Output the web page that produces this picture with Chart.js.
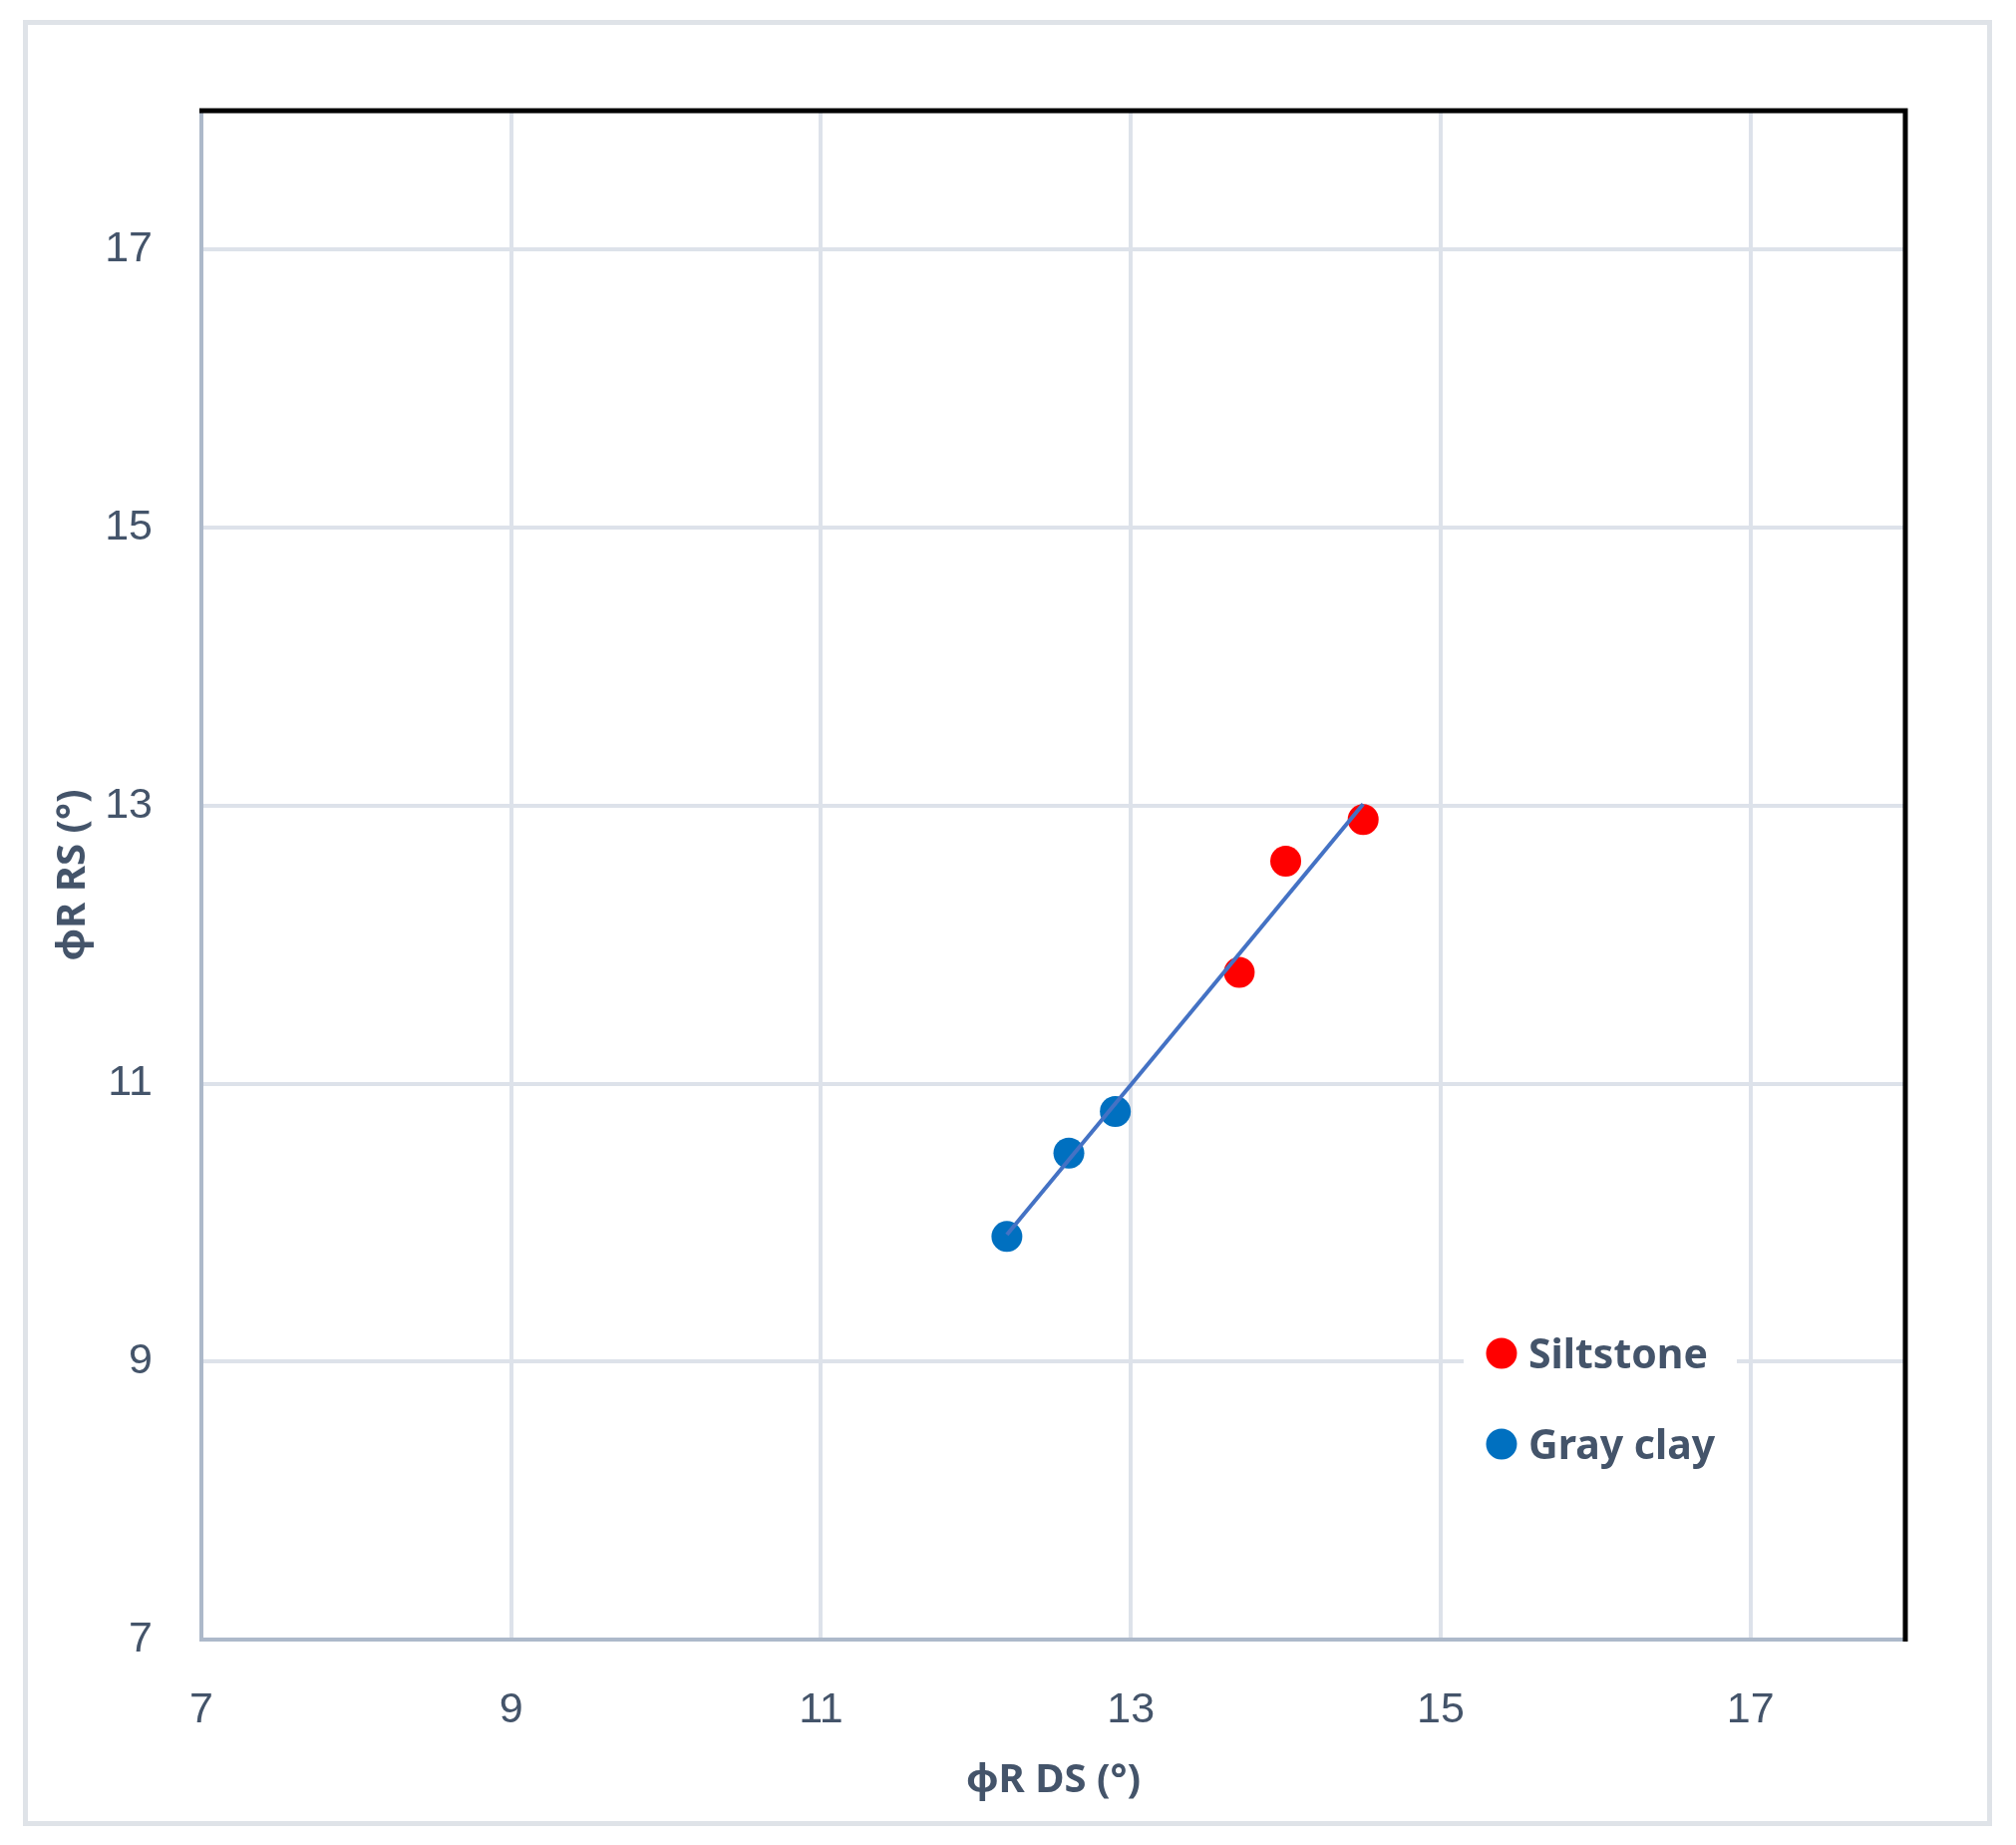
<!DOCTYPE html>
<html>
<head>
<meta charset="utf-8">
<script src="https://cdn.jsdelivr.net/npm/chart.js@4.4.1/dist/chart.umd.min.js"></script>
<style>
    html, body { margin: 0; padding: 0; background: #fff; }
    #wrap { width: 2022px; height: 1850px; }
</style>
</head>
<body>
<div id="wrap"><canvas id="myChart" width="2022" height="1850"></canvas></div>
<script>
// data
const siltstoneDS = [13.7, 14.0, 14.5];
const siltstoneRS = [11.8, 12.6, 12.9];
const grayClayDS = [12.2, 12.6, 12.9];
const grayClayRS = [9.9, 10.5, 10.8];
const axisTicks = [7, 9, 11, 13, 15, 17];
const seriesNames = ["Siltstone", "Gray clay"];
const seriesColors = ["#ff0000", "#0070c0"];

const textColor = "#44546a";
const tickFont = "'Liberation Sans', Arial, sans-serif";
const boldFont = "'Noto Sans', 'Open Sans', sans-serif";

function toPoints(xs, ys) {
    return xs.map((x, i) => ({ x: x, y: ys[i] }));
}

// linear trendline through all points
const allX = siltstoneDS.concat(grayClayDS);
const allY = siltstoneRS.concat(grayClayRS);
const mx = allX.reduce((a, b) => a + b, 0) / allX.length;
const my = allY.reduce((a, b) => a + b, 0) / allY.length;
let sxy = 0, sxx = 0;
allX.forEach((x, i) => {
    sxy += (x - mx) * (allY[i] - my);
    sxx += (x - mx) * (x - mx);
});
const slope = sxy / sxx;
const xLo = Math.min(...allX), xHi = Math.max(...allX);
const trendPoints = [
    { x: xLo, y: my + slope * (xLo - mx) },
    { x: xHi, y: my + slope * (xHi - mx) },
];

const frameAndLegend = {
    id: "frameAndLegend",
    beforeDraw(chart) {
        const c = chart.ctx;
        c.save();
        c.fillStyle = "#fff";
        c.fillRect(0, 0, chart.width, chart.height);
        c.strokeStyle = "#dfe3e8";
        c.lineWidth = 5;
        c.strokeRect(25.5, 22.5, 1970, 1806);
        c.restore();
    },
    afterDraw(chart) {
        const c = chart.ctx;
        const a = chart.chartArea;
        c.save();
        // black top and right edges
        c.strokeStyle = "#000";
        c.lineWidth = 5;
        c.beginPath();
        c.moveTo(a.left - 2, a.top);
        c.lineTo(a.right, a.top);
        c.lineTo(a.right, a.bottom + 2);
        c.stroke();

        // legend
        c.fillStyle = "#fff";
        c.fillRect(1468, 1310, 274, 185);
        const rows = [1357, 1448];
        c.font = "bold 41px " + boldFont;
        c.textBaseline = "middle";
        c.textAlign = "left";
        seriesNames.forEach((name, i) => {
            c.fillStyle = seriesColors[i];
            c.beginPath();
            c.arc(1506, rows[i], 15.5, 0, Math.PI * 2);
            c.fill();
            c.fillStyle = textColor;
            c.fillText(name, 1533, rows[i] + 3);
        });
        c.restore();
    },
};

const ctx = document.getElementById("myChart");
new Chart(ctx, {
    type: "scatter",
    data: {
        datasets: [
            {
                type: "line",
                label: "trend",
                data: trendPoints,
                borderColor: "#4472c4",
                borderWidth: 4,
                pointRadius: 0,
                fill: false,
            },
            {
                label: seriesNames[0],
                data: toPoints(siltstoneDS, siltstoneRS),
                backgroundColor: seriesColors[0],
                borderWidth: 0,
                pointRadius: 15.5,
            },
            {
                label: seriesNames[1],
                data: toPoints(grayClayDS, grayClayRS),
                backgroundColor: seriesColors[1],
                borderWidth: 0,
                pointRadius: 15.5,
            },
        ],
    },
    options: {
        responsive: false,
        animation: false,
        layout: { padding: { top: 111, right: 111, bottom: 40, left: 0 } },
        plugins: {
            legend: { display: false },
            tooltip: { enabled: false },
        },
        scales: {
            x: {
                type: "linear",
                min: 7,
                max: 18,
                afterFit: (s) => { s.height = 166; },
                afterBuildTicks: (s) => { s.ticks = axisTicks.map((v) => ({ value: v })); },
                grid: { color: "#dde2ea", lineWidth: 4, drawTicks: false },
                border: { color: "#adb9ca", width: 4 },
                ticks: {
                    padding: 45,
                    color: textColor,
                    font: { family: tickFont, size: 43 },
                },
                title: {
                    display: true,
                    text: "φR DS (°)",
                    color: textColor,
                    font: { family: boldFont, size: 40, weight: "bold" },
                    padding: 0,
                },
            },
            y: {
                type: "linear",
                min: 7,
                max: 18,
                afterFit: (s) => { s.width = 202; },
                afterBuildTicks: (s) => { s.ticks = axisTicks.map((v) => ({ value: v })); },
                grid: { color: "#dde2ea", lineWidth: 4, drawTicks: false },
                border: { color: "#adb9ca", width: 4 },
                ticks: {
                    padding: 49,
                    color: textColor,
                    font: { family: tickFont, size: 43 },
                },
                title: {
                    display: true,
                    text: "φR RS (°)",
                    color: textColor,
                    font: { family: boldFont, size: 40, weight: "bold" },
                    padding: { top: 50, bottom: 0 },
                },
            },
        },
    },
    plugins: [frameAndLegend],
});
</script>
</body>
</html>
